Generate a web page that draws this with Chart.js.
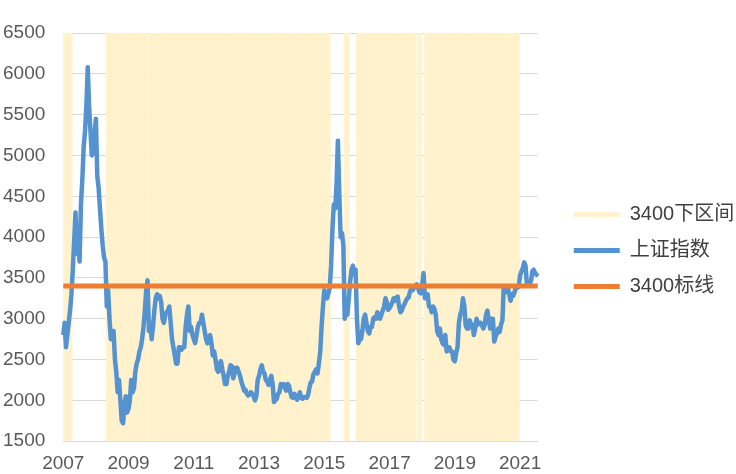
<!DOCTYPE html>
<html>
<head>
<meta charset="utf-8">
<script src="https://cdn.jsdelivr.net/npm/chart.js@4.4.1/dist/chart.umd.min.js"></script>
<style>
body { margin: 0; background: #fff; }
#wrap { width: 736px; height: 474px; }
</style>
</head>
<body>
<div id="wrap"><canvas id="sz" width="736" height="474"></canvas></div>
<script>
// 上证指数, two readings per month (first half / second half), 2007-01 .. 2021-07
var indexValues = [
    2800, 2950, 2650, 2800, 2950, 3100, 3300, 3600, 3950, 4300, 3800, 3900, 3700, 4400, 4700, 5100, 5300, 5600, 6080, 5600, 5300, 5000, 5050, 5250, // 2007
    5450, 4750, 4600, 4350, 4100, 3900, 3750, 3700, 3150, 3350, 3000, 2750, 2800, 2850, 2500, 2350, 2100, 2250, 2000, 1750, 1720, 1950, 2050, 1850, // 2008
    1900, 2000, 2250, 2100, 2150, 2350, 2450, 2500, 2600, 2650, 2750, 2900, 3100, 3350, 3470, 2850, 2950, 2750, 2900, 3100, 3250, 3300, 3250, 3280, // 2009
    3200, 3000, 2950, 3050, 3080, 3100, 3150, 2950, 2750, 2650, 2550, 2450, 2450, 2650, 2650, 2620, 2650, 2650, 2900, 3050, 3150, 2850, 2900, 2800, // 2010
    2750, 2700, 2800, 2900, 2950, 2950, 3050, 2950, 2850, 2750, 2700, 2750, 2800, 2700, 2550, 2600, 2500, 2380, 2350, 2450, 2480, 2380, 2300, 2200, // 2011
    2200, 2300, 2350, 2430, 2420, 2270, 2330, 2400, 2400, 2350, 2300, 2230, 2180, 2120, 2130, 2080, 2060, 2080, 2100, 2080, 2050, 2000, 2050, 2250, // 2012
    2300, 2380, 2430, 2350, 2330, 2250, 2230, 2190, 2250, 2300, 2200, 1980, 2000, 2020, 2080, 2100, 2200, 2180, 2200, 2150, 2120, 2200, 2180, 2100, // 2013
    2040, 2030, 2080, 2050, 2010, 2050, 2100, 2030, 2020, 2040, 2040, 2030, 2060, 2150, 2220, 2230, 2320, 2350, 2380, 2330, 2450, 2600, 2900, 3150, // 2014
    3350, 3250, 3250, 3310, 3380, 3650, 4100, 4400, 4350, 4650, 5180, 4550, 4000, 4050, 3900, 3000, 3100, 3050, 3250, 3450, 3600, 3650, 3550, 3600, // 2015
    3000, 2700, 2750, 2750, 2850, 3000, 3050, 2950, 2850, 2820, 2900, 2900, 3000, 3020, 3000, 3080, 3050, 3000, 3050, 3100, 3150, 3250, 3200, 3110, // 2016
    3130, 3160, 3200, 3250, 3220, 3260, 3270, 3150, 3080, 3100, 3150, 3180, 3220, 3250, 3260, 3330, 3370, 3350, 3380, 3390, 3420, 3380, 3320, 3310, // 2017
    3420, 3560, 3250, 3270, 3300, 3150, 3150, 3080, 3150, 3120, 3050, 2850, 2800, 2880, 2750, 2700, 2680, 2800, 2600, 2620, 2650, 2600, 2600, 2500, // 2018
    2480, 2580, 2650, 2950, 3050, 3100, 3250, 3150, 2920, 2880, 2880, 2980, 2930, 2930, 2800, 2880, 3000, 2930, 2950, 2950, 2920, 2880, 2930, 3050, // 2019
    3100, 2980, 2880, 3000, 3000, 2720, 2780, 2820, 2880, 2840, 2930, 2980, 3395, 3320, 3360, 3380, 3300, 3220, 3300, 3280, 3330, 3390, 3380, 3390, // 2020
    3530, 3580, 3620, 3690, 3650, 3420, 3450, 3440, 3460, 3580, 3600, 3560, 3540, 3560                                                                // 2021
];

var yearTicks = ['2007', '2009', '2011', '2013', '2015', '2017', '2019', '2021'];
var seriesNames = ['3400下区间', '上证指数', '3400标线'];
var threshold = 3400;
var yMin = 1500;
var yMax = 6500;

var colors = {
    band: '#FFF2CC',
    index: '#5592D0',
    line: '#ED7D31',
    text: '#595959',
    grid: '#D9D9D9'
};

var categories = [];
for (var y = 2007; categories.length < indexValues.length; y++)
{
    for (var m = 1; m <= 12 && categories.length < indexValues.length; m++)
    {
        var mm = (m < 10 ? '0' : '') + m;
        categories.push(y + '-' + mm + 'a');
        if (categories.length < indexValues.length) categories.push(y + '-' + mm + 'b');
    }
}

var bandData = indexValues.map(function (v) { return v < threshold ? [yMin, yMax] : null; });
var lineData = indexValues.map(function () { return threshold; });

var fontFamily = "'Liberation Sans', 'Noto Sans CJK SC', sans-serif";
var legendColors = [colors.band, colors.index, colors.line];

// legend sits a bit further right (and higher) than chart.js puts it
var legendShift = {
    id: 'legendShift',
    afterLayout: function (c) {
        c.legend.left += 20;
        c.legend.right += 20;
        c.legend.top -= 9;
        c.legend.bottom -= 9;
    }
};

var ctx = document.getElementById('sz').getContext('2d');
var chart = new Chart(ctx, {
    data: {
        labels: categories,
        datasets: [
            {
                type: 'bar',
                label: seriesNames[0],
                data: bandData,
                backgroundColor: colors.band,
                borderWidth: 0,
                barPercentage: 1,
                categoryPercentage: 1,
                order: 3
            },
            {
                type: 'line',
                label: seriesNames[1],
                data: indexValues,
                borderColor: colors.index,
                backgroundColor: colors.index,
                borderWidth: 4.5,
                pointRadius: 0,
                borderJoinStyle: 'round',
                order: 2
            },
            {
                type: 'line',
                label: seriesNames[2],
                data: lineData,
                borderColor: colors.line,
                backgroundColor: colors.line,
                borderWidth: 5,
                pointRadius: 0,
                order: 1
            }
        ]
    },
    plugins: [legendShift],
    options: {
        responsive: false,
        animation: false,
        layout: { padding: { left: -15, top: 33, right: 14, bottom: -12 } },
        scales: {
            x: {
                offset: false,
                grid: { display: false, drawTicks: false },
                border: { display: true, color: colors.grid, width: 1 },
                ticks: {
                    autoSkip: false,
                    maxRotation: 0,
                    padding: 11,
                    color: colors.text,
                    font: { family: fontFamily, size: 19 },
                    callback: function (value, index) {
                        var lab = this.getLabelForValue(value);
                        var yr = lab.substr(0, 4);
                        if (lab.substr(5) === '01a' && yearTicks.indexOf(yr) >= 0) return yr;
                        return null;
                    }
                }
            },
            y: {
                min: yMin,
                max: yMax,
                grid: { color: colors.grid, drawTicks: false },
                border: { display: false },
                ticks: {
                    stepSize: 500,
                    padding: 18,
                    color: colors.text,
                    font: { family: fontFamily, size: 19 },
                    callback: function (v) { return v; }
                }
            }
        },
        plugins: {
            tooltip: { enabled: false },
            legend: {
                position: 'right',
                align: 'center',
                labels: {
                    boxWidth: 46,
                    boxHeight: 5,
                    padding: 16,
                    color: '#404040',
                    font: { family: fontFamily, size: 20 },
                    sort: function (a, b) { return a.datasetIndex - b.datasetIndex; },
                    generateLabels: function (c) {
                        var items = Chart.defaults.plugins.legend.labels.generateLabels(c);
                        items.forEach(function (it) {
                            it.fillStyle = legendColors[it.datasetIndex];
                            it.strokeStyle = legendColors[it.datasetIndex];
                            it.lineWidth = 0;
                        });
                        return items;
                    }
                }
            }
        }
    }
});
</script>
</body>
</html>
